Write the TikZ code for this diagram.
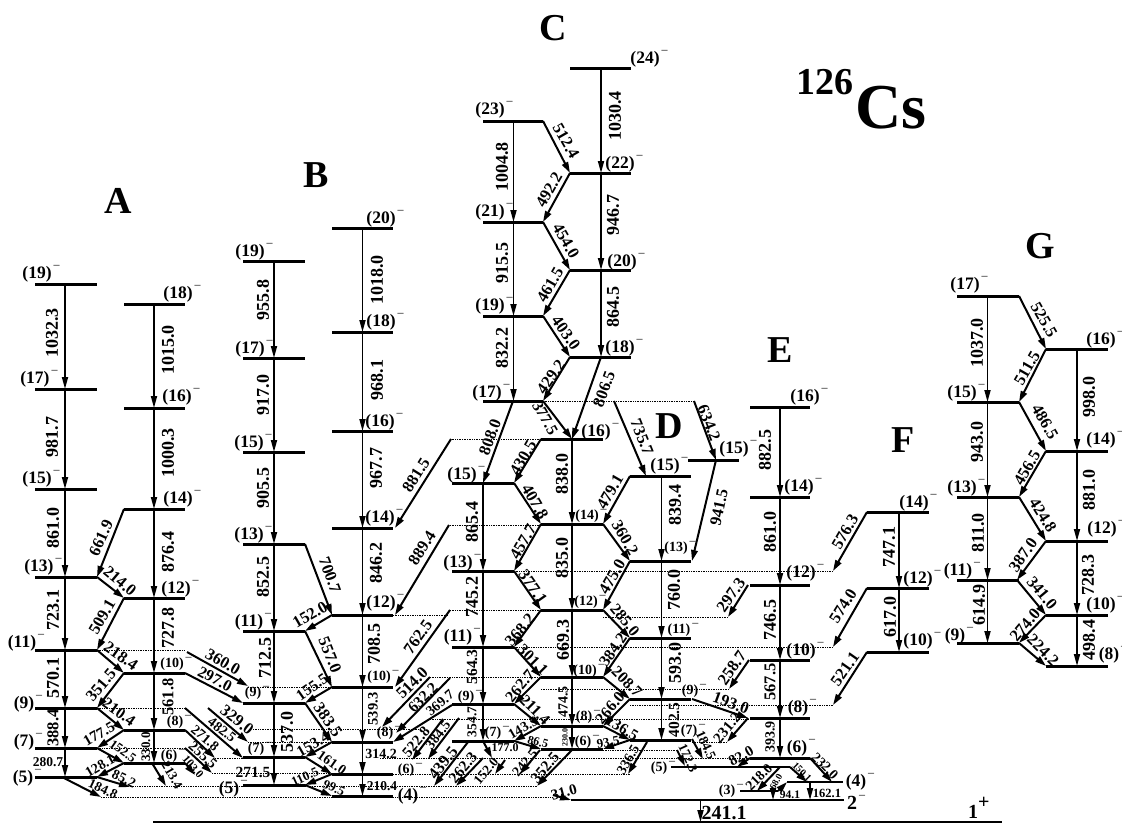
\documentclass[tikz,border=0pt]{standalone}
\usepackage{fontspec}
\setmainfont{Liberation Serif}
\usetikzlibrary{arrows.meta}
\newcommand\mnus{\rlap{\raisebox{.55em}{\kern2pt\mdseries\fontsize{12}{12}\selectfont –}}}
\newcommand\Lv[3]{\draw[lvl] (#1,#3)--(#2,#3);}
\newcommand\Lw[3]{\draw[lvlt] (#1,#3)--(#2,#3);}
\newcommand\Gm[4]{\draw[gam] (#1,#2)--(#3,#4);}
\newcommand\Vg[3]{\draw[vgam] (#1,#2)--(#1,#3);}
\newcommand\Dl[3]{\draw[dot] (#1,#3)--(#2,#3);}
\newcommand\Lz[5]{\node[txt,font=\bfseries\fontsize{#5}{#5}\selectfont,rotate=#3] at (#1,#2) {#4};}
\newcommand\Lb[4]{\ifnum#3=90 \Lz{#1}{#2}{#3}{#4}{18}\else\Lz{#1}{#2}{#3}{#4}{16.5}\fi}
\newcommand\Sn[3]{\node[txt,font=\bfseries\fontsize{17.5}{18}\selectfont] at (#1,#2) {(#3)\mnus};}
\newcommand\Ss[3]{\node[txt,font=\bfseries\fontsize{14}{14}\selectfont] at (#1,#2) {(#3)\mnus};}
\tikzset{
 lvl/.style={line width=3pt},
 lvlt/.style={line width=1.4pt},
 gam/.style={line width=2pt,-{Stealth[length=11pt,width=6.5pt,inset=0pt]}},
 vgam/.style={line width=1.7pt,-{Stealth[length=12pt,width=6pt,inset=0pt]}},
 dot/.style={line width=.7pt,densely dotted},
 txt/.style={inner sep=0pt,font=\bfseries\fontsize{18}{18}\selectfont},
 ttl/.style={inner sep=0pt,font=\bfseries\fontsize{38}{38}\selectfont}
}
\begin{document}
\begin{tikzpicture}[x=1pt,y=-1pt]
\useasboundingbox (0,0) rectangle (1122,823);
% dotted
\Dl{97}{185}{650}\Dl{97}{185}{708}\Dl{97}{185}{748}
\Dl{130}{537}{786}\Dl{101}{553}{797}
\Dl{248}{332}{687}\Dl{253}{420}{729}\Dl{248}{332}{742}\Dl{215}{243}{758}\Dl{212}{332}{773}
\Dl{430}{541}{677}\Dl{430}{748}{719}\Dl{380}{750}{758}\Dl{393}{630}{774}
\Dl{541}{729}{689}\Dl{603}{677}{750}\Dl{692}{727}{742}\Dl{630}{833}{705}
\Dl{514}{833}{647}\Dl{514}{833}{571}\Dl{603}{728}{617}
\Dl{450}{541}{610}\Dl{450}{541}{525}\Dl{450}{541}{439}\Dl{543}{694}{401}
\Dl{393}{449}{615}
% levels band A
\foreach \y in {777,748,708,650,577,489,389,284}{\Lv{35}{97}{\y}}
\foreach \y in {763,730,673,598,509,408,304}{\Lv{124}{185}{\y}}
\Vg{65}{284}{389}\Vg{65}{389}{489}\Vg{65}{489}{577}\Vg{65}{577}{650}\Vg{65}{650}{708}\Vg{65}{708}{748}\Vg{65}{748}{777}
\Vg{154}{304}{408}\Vg{154}{408}{509}\Vg{154}{509}{598}\Vg{154}{598}{673}\Vg{154}{673}{730}\Vg{154}{730}{763}
\Gm{124}{509}{97}{577}\Gm{97}{577}{124}{598}\Gm{124}{598}{97}{650}\Gm{97}{650}{124}{673}\Gm{124}{673}{97}{708}
\Gm{97}{708}{124}{730}\Gm{124}{730}{97}{748}\Gm{97}{748}{124}{763}\Gm{124}{763}{97}{777}
\Gm{97}{777}{130}{787}\Gm{62}{777}{101}{797}\Gm{152}{763}{166}{786}
\Gm{185}{763}{195}{775}\Gm{185}{748}{212}{773}\Gm{185}{730}{215}{758}\Gm{185}{708}{243}{758}\Gm{208}{708}{248}{742}
\Gm{185}{673}{243}{703}\Gm{187}{652}{248}{686}
% band B
\foreach \y in {785,757,703,631,544,452,358,261}{\Lv{243}{305}{\y}}
\foreach \y in {796,774,742,687,615,528,431,332,228}{\Lv{332}{393}{\y}}
\Vg{274}{261}{358}\Vg{274}{358}{452}\Vg{274}{452}{544}\Vg{274}{544}{631}\Vg{274}{631}{703}\Vg{274}{703}{757}\Vg{274}{757}{785}
\Vg{362.5}{228}{332}\Vg{362.5}{332}{431}\Vg{362.5}{431}{528}\Vg{362.5}{528}{615}\Vg{362.5}{615}{687}\Vg{362.5}{687}{742}\Vg{362.5}{742}{774}\Vg{362.5}{774}{796}
\Gm{305}{544}{332}{615}\Gm{332}{615}{305}{631}\Gm{305}{631}{332}{687}\Gm{332}{687}{305}{703}\Gm{305}{703}{332}{742}
\Gm{332}{742}{305}{757}\Gm{305}{757}{332}{774}\Gm{332}{774}{305}{785}\Gm{305}{785}{332}{796}
\Gm{451}{439}{395}{528}\Gm{449}{525}{395}{615}\Gm{450}{610}{395}{687}
\Gm{430}{677}{382}{727}\Gm{450}{678}{396}{733}\Gm{452}{705}{393}{742}\Gm{443}{719}{412}{760}\Gm{459}{718}{428}{759}
\Gm{468}{742}{434}{786}\Gm{483}{758}{456}{786}
% band C
\foreach \y in {741,704,647,571,483}{\Lv{452}{514}{\y}}
\foreach \y in {401,316,222,121}{\Lv{483}{543}{\y}}
\foreach \y in {749,726,677,610,524,439}{\Lv{541}{603}{\y}}
\foreach \y in {357,270,173,68}{\Lv{570}{631}{\y}}
\foreach \y in {476,561,638,699,740}{\Lv{630}{691}{\y}}
\Lv{688}{739}{460}
\Vg{513.5}{121}{222}\Vg{513.5}{222}{316}\Vg{513.5}{316}{401}
\Vg{601}{68}{173}\Vg{601}{173}{270}\Vg{601}{270}{357}
\Gm{513}{401}{483}{483}\Gm{601}{357}{572}{439}
\Vg{483}{483}{571}\Vg{483}{571}{647}\Vg{483}{647}{704}\Vg{483}{704}{741}
\Vg{572}{439}{524}\Vg{572}{524}{610}\Vg{572}{610}{677}\Vg{572}{677}{726}\Vg{572}{726}{749}
\Vg{661.5}{476}{561}\Vg{661.5}{561}{638}\Vg{661.5}{638}{699}\Vg{661.5}{699}{740}
\Gm{543}{121}{570}{173}\Gm{570}{173}{543}{222}\Gm{543}{222}{570}{270}\Gm{570}{270}{543}{316}\Gm{543}{316}{570}{357}\Gm{570}{357}{543}{401}
\Gm{543}{401}{572}{439}\Gm{541}{439}{514}{483}\Gm{514}{483}{541}{524}\Gm{541}{524}{514}{571}\Gm{514}{571}{541}{610}
\Gm{541}{610}{514}{647}\Gm{514}{647}{541}{677}\Gm{541}{677}{514}{704}\Gm{514}{704}{541}{726}\Gm{541}{726}{514}{741}\Gm{514}{741}{541}{749}
\Gm{630}{476}{603}{524}\Gm{603}{524}{630}{561}\Gm{630}{561}{603}{610}\Gm{603}{610}{630}{638}\Gm{630}{638}{603}{677}
\Gm{603}{677}{630}{699}\Gm{630}{699}{603}{726}\Gm{603}{726}{630}{740}\Gm{630}{740}{603}{749}
\Gm{614}{401}{646}{476}\Gm{694}{401}{716}{460}\Gm{716}{460}{692}{561}
\Gm{483}{741}{492}{758}\Gm{505}{760}{495}{774}\Gm{540}{750}{520}{774}\Gm{572}{750}{537}{786}\Gm{647}{742}{628}{774}
% E, bottom
\foreach \y in {407,497,585,660,718,758}{\Lv{750}{810}{\y}}
\Vg{780}{407}{497}\Vg{780}{497}{585}\Vg{780}{585}{660}\Vg{780}{660}{718}\Vg{780}{718}{758}
\Gm{748}{585}{728}{617}\Gm{749}{660}{729}{689}
\Gm{692}{699}{748}{718}\Gm{748}{718}{727}{742}\Gm{692}{739}{703}{759}\Gm{677}{750}{685}{766}
\Gm{750}{758}{737}{767}\Gm{780}{767}{757}{791}\Gm{790}{767}{807}{782}\Gm{810}{758}{832}{782}\Gm{778}{791}{787}{782}
\Gm{553}{795}{571}{800}
\Lw{671}{790}{767}\Lw{740}{778}{791}\Lw{787}{843}{782}
\Lw{571}{844}{800}
\draw[line width=1.8pt] (153,822)--(1002,822);
\Vg{773}{791}{800}\Vg{810}{782}{800}\Vg{700.5}{800}{822}
% F
\foreach \y in {512,588,652}{\Lv{867}{929}{\y}}
\Vg{899}{512}{588}\Vg{899}{588}{652}
\Gm{867}{512}{833}{571}\Gm{867}{588}{833}{647}\Gm{867}{652}{833}{705}
% G
\foreach \y in {296,402,497,580,643}{\Lv{957}{1019}{\y}}
\foreach \y in {349,451,541,615,666}{\Lv{1046}{1108}{\y}}
\Vg{987.5}{296}{402}\Vg{987.5}{402}{497}\Vg{987.5}{497}{580}\Vg{987.5}{580}{643}
\Vg{1077}{349}{451}\Vg{1077}{451}{541}\Vg{1077}{541}{615}\Vg{1077}{615}{666}
\Gm{1019}{296}{1046}{349}\Gm{1046}{349}{1019}{402}\Gm{1019}{402}{1046}{451}\Gm{1046}{451}{1019}{497}\Gm{1019}{497}{1046}{541}
\Gm{1046}{541}{1017}{580}\Gm{1017}{580}{1046}{615}\Gm{1046}{615}{1019}{643}\Gm{1019}{643}{1046}{666}
% titles
\node[ttl] at (118,201) {A};\node[ttl] at (316,175) {B};\node[ttl] at (553,28) {C};\node[ttl] at (669,426) {D};
\node[ttl] at (780,350) {E};\node[ttl] at (903,440) {F};\node[ttl] at (1040,246) {G};
\node[inner sep=0pt,font=\bfseries\fontsize{38}{38}\selectfont] at (825,82) {126};
\node[inner sep=0pt,font=\bfseries\fontsize{64}{64}\selectfont] at (891,108) {Cs};
% A labels
\Lb{52}{333}{90}{1032.3}\Lb{52}{437}{90}{981.7}\Lb{53}{528}{90}{861.0}\Lb{53}{610}{90}{723.1}\Lb{53}{678}{90}{570.1}\Lz{53}{728}{90}{388.4}{16.5}
\Lz{48}{762}{0}{280.7}{13.5}
\Lb{168}{350}{90}{1015.0}\Lb{168}{453}{90}{1000.3}\Lb{168}{552}{90}{876.4}\Lb{168}{628}{90}{727.8}\Lz{168}{697}{90}{561.8}{16.5}\Lz{146}{747}{90}{330.0}{13}
\Lb{101}{538}{65}{661.9}\Lb{120}{581}{-40}{214.0}\Lb{102}{617}{60}{509.1}\Lb{121}{656}{-35}{218.4}\Lb{101}{685}{50}{351.5}
\Lz{119}{712}{-35}{210.4}{16}\Lz{99}{734}{30}{177.5}{15}\Lz{123}{751}{-35}{152.5}{13}\Lz{100}{766}{30}{128.1}{14}\Lz{124}{779}{-25}{85.2}{14}\Lz{103}{789}{-25}{184.8}{13.5}
\Lz{172}{775}{-60}{213.4}{13}\Lz{193}{767}{-50}{103.0}{11.5}
\Lb{237}{720}{-38}{329.0}\Lz{222}{730}{-38}{482.5}{14}\Lz{205}{738}{-40}{271.8}{14}\Lz{203}{755}{-42}{255.5}{14.5}
\Lb{223}{662}{-30}{360.0}\Lz{215}{679}{-28}{297.0}{16}
\Sn{37}{274}{19}\Sn{35}{379}{17}\Sn{37}{479}{15}\Sn{39}{567}{13}\Sn{22}{643}{11}\Sn{24}{704}{9}\Sn{24}{742}{7}\Sn{23}{778}{5}
\Sn{178}{294}{18}\Sn{177}{397}{16}\Sn{178}{499}{14}\Sn{176}{589}{12}\Ss{172}{664}{10}\Ss{175}{722}{8}\Ss{169}{756}{6}
% B labels
\Lb{263}{300}{90}{955.8}\Lb{263}{395}{90}{917.0}\Lb{263}{488}{90}{905.5}\Lb{263}{577}{90}{852.5}\Lb{265}{658}{90}{712.5}\Lb{287}{732}{90}{537.0}
\Lz{253}{772}{0}{271.5}{15.5}
\Lb{377}{280}{90}{1018.0}\Lb{377}{380}{90}{968.1}\Lb{376}{468}{90}{967.7}\Lb{376}{563}{90}{846.2}\Lb{374}{644}{90}{708.5}\Lz{373}{709}{90}{539.3}{14.5}
\Lz{381}{754}{0}{314.2}{14}\Lz{382}{786}{0}{210.4}{13.5}
\Lb{310}{615}{30}{152.0}\Lb{330}{575}{-70}{700.7}\Lb{330}{655}{-68}{557.0}\Lz{312}{687}{35}{155.5}{15.5}\Lb{328}{720}{-55}{383.5}
\Lz{313}{744}{30}{153.4}{15.5}\Lz{332}{763}{-35}{161.0}{14}\Lz{305}{777}{25}{110.5}{13}\Lz{334}{788}{-25}{99.5}{13}
\Lb{416}{475}{58}{881.5}\Lb{422}{548}{58}{889.4}\Lb{418}{637}{55}{762.5}
\Lb{412}{683}{45}{514.0}\Lz{423}{698}{45}{632.2}{15.5}\Lz{440}{703}{40}{369.7}{14}\Lz{416}{742}{50}{522.8}{15}\Lz{438}{735}{52}{384.5}{14}\Lb{443}{763}{52}{439.5}\Lz{463}{768}{50}{262.3}{15.5}
\Sn{250}{252}{19}\Sn{250}{349}{17}\Sn{249}{443}{15}\Sn{249}{535}{13}\Sn{249}{622}{11}\Ss{253}{693}{9}\Ss{256}{749}{7}\Sn{229}{789}{5}
\Sn{381}{219}{20}\Sn{381}{322}{18}\Sn{380}{422}{16}\Sn{380}{518}{14}\Sn{381}{603}{12}\Ss{379}{677}{10}\Ss{385}{733}{8}\Ss{406}{770}{6}\Sn{408}{796}{4}
% C labels
\Lb{502}{167}{90}{1004.8}\Lb{502}{263}{90}{915.5}\Lb{502}{348}{90}{832.2}
\Lb{490}{437}{70}{808.0}\Lb{472}{522}{90}{865.4}\Lb{472}{597}{90}{745.2}\Lz{472}{667}{90}{564.3}{15.5}\Lz{472}{722}{90}{354.7}{13.5}
\Lb{615}{116}{90}{1030.4}\Lb{613}{215}{90}{946.7}\Lb{613}{307}{90}{864.5}
\Lb{566}{141}{-60}{512.4}\Lb{549}{190}{60}{492.2}\Lb{566}{241}{-60}{454.0}\Lb{550}{285}{60}{461.5}\Lb{566}{333}{-55}{403.0}\Lb{551}{377}{55}{429.2}
\Lb{604}{389}{70}{806.5}\Lz{545}{418}{-60}{377.5}{16}\Lb{523}{458}{60}{430.5}\Lb{535}{502}{-60}{407.8}\Lb{523}{542}{60}{457.7}\Lb{533}{587}{-55}{377.1}
\Lb{520}{630}{50}{368.2}\Lz{533}{660}{-45}{301.1}{16}\Lz{520}{686}{50}{262.7}{16}\Lz{535}{710}{-45}{211.4}{16}\Lz{523}{728}{30}{143.5}{14}\Lz{538}{742}{-15}{86.5}{12}
\Lz{505}{748}{0}{177.0}{12}\Lz{486}{771}{50}{152.0}{13.5}\Lz{525}{763}{50}{242.5}{14}\Lz{545}{768}{50}{352.5}{15.5}
\Lb{562}{474}{90}{838.0}\Lb{562}{558}{90}{835.0}\Lb{563}{640}{90}{669.3}\Lz{563}{702}{90}{474.5}{14}
\Lz{565}{737}{90}{230.0}{8}
\Lb{610}{492}{60}{479.1}\Lb{625}{538}{-60}{360.2}\Lb{612}{577}{60}{475.0}\Lz{625}{620}{-50}{285.0}{16}\Lz{613}{650}{55}{384.2}{16}\Lz{627}{682}{-45}{208.7}{16}
\Lz{610}{708}{50}{266.0}{16}\Lz{622}{728}{-30}{136.5}{15.5}\Lz{608}{742}{10}{93.5}{13}\Lz{628}{760}{60}{336.5}{14}
\Lb{642}{437}{-68}{735.7}\Lb{709}{423}{-68}{634.2}\Lb{719}{507}{78}{941.5}\Lb{675}{505}{90}{839.4}\Lb{674}{590}{90}{760.0}\Lb{675}{663}{90}{593.0}\Lz{674}{720}{90}{402.5}{15.5}
\Sn{490}{110}{23}\Sn{490}{212}{21}\Sn{490}{306}{19}\Sn{487}{393}{17}\Sn{462}{475}{15}\Sn{458}{563}{13}\Sn{458}{637}{11}\Ss{466}{697}{9}\Ss{493}{733}{7}
\Sn{620}{164}{22}
\Sn{645}{59}{24}\Sn{622}{262}{20}\Sn{620}{348}{18}
\Sn{596}{432}{16}\Ss{587}{516}{14}\Ss{586}{602}{12}\Ss{585}{671}{10}\Ss{584}{717}{8}\Ss{583}{742}{6}
\Sn{665}{466}{15}\Sn{734}{449}{15}\Ss{676}{548}{13}\Ss{679}{630}{11}\Ss{690}{691}{9}\Ss{689}{731}{7}\Ss{659}{768}{5}
\Lz{564}{792}{15}{31.0}{15}
% E labels
\Lb{765}{450}{90}{882.5}\Lb{770}{532}{90}{861.0}\Lb{770}{620}{90}{746.5}\Lz{770}{682}{90}{567.5}{16.5}\Lz{770}{737}{90}{393.9}{14}
\Lb{731}{595}{55}{297.3}\Lb{732}{668}{55}{258.7}
\Lb{731}{703}{-20}{193.0}\Lz{727}{728}{50}{231.2}{15}\Lz{706}{745}{-65}{184.5}{13.5}\Lz{688}{758}{-65}{172.3}{13}\Lz{741}{756}{30}{82.0}{15}
\Lz{759}{777}{45}{218.0}{14}\Lz{776}{782}{60}{68.0}{9.5}\Lz{802}{772}{-45}{150.1}{10}\Lz{825}{766}{-45}{232.0}{14}
\Lz{790}{795}{0}{94.1}{11.5}\Lz{827}{793}{0}{162.1}{12.5}
\Lz{724}{813}{0}{241.1}{20}
\Sn{805}{397}{16}\Sn{799}{487}{14}\Sn{801}{573}{12}\Sn{801}{651}{10}\Sn{798}{708}{8}\Sn{797}{748}{6}
\Ss{727}{791}{3}\Sn{856}{782}{4}
\node[txt,font=\bfseries\fontsize{20}{20}\selectfont] at (852,802) {2\mnus};
\node[txt,font=\bfseries\fontsize{20}{20}\selectfont] at (973,808) {1\rlap{\raisebox{.5em}{+}}};
% F labels
\Lb{889}{547}{90}{747.1}\Lb{890}{617}{90}{617.0}\Lb{845}{532}{60}{576.3}\Lb{843}{606}{58}{574.0}\Lb{845}{669}{55}{521.1}
\Sn{914}{503}{14}\Sn{918}{579}{12}\Sn{918}{641}{10}
% G labels
\Lb{977}{343}{90}{1037.0}\Lb{977}{442}{90}{943.0}\Lb{978}{533}{90}{811.0}\Lb{979}{605}{90}{614.9}
\Lb{1044}{320}{-60}{525.5}\Lb{1027}{368}{60}{511.5}\Lb{1045}{422}{-60}{486.5}\Lb{1027}{468}{60}{456.5}\Lb{1043}{515}{-58}{424.8}
\Lb{1023}{555}{55}{387.0}\Lb{1042}{593}{-50}{341.0}\Lb{1025}{625}{50}{274.0}\Lb{1043}{650}{-45}{224.2}
\Lb{1089}{397}{90}{998.0}\Lb{1089}{490}{90}{881.0}\Lb{1088}{575}{90}{728.3}\Lb{1089}{640}{90}{498.4}
\Sn{965}{285}{17}\Sn{962}{393}{15}\Sn{962}{488}{13}\Sn{958}{571}{11}\Sn{955}{636}{9}
\Sn{1101}{340}{16}\Sn{1101}{440}{14}\Sn{1102}{529}{12}\Sn{1101}{605}{10}\Sn{1109}{655}{8}
\end{tikzpicture}
\end{document}
